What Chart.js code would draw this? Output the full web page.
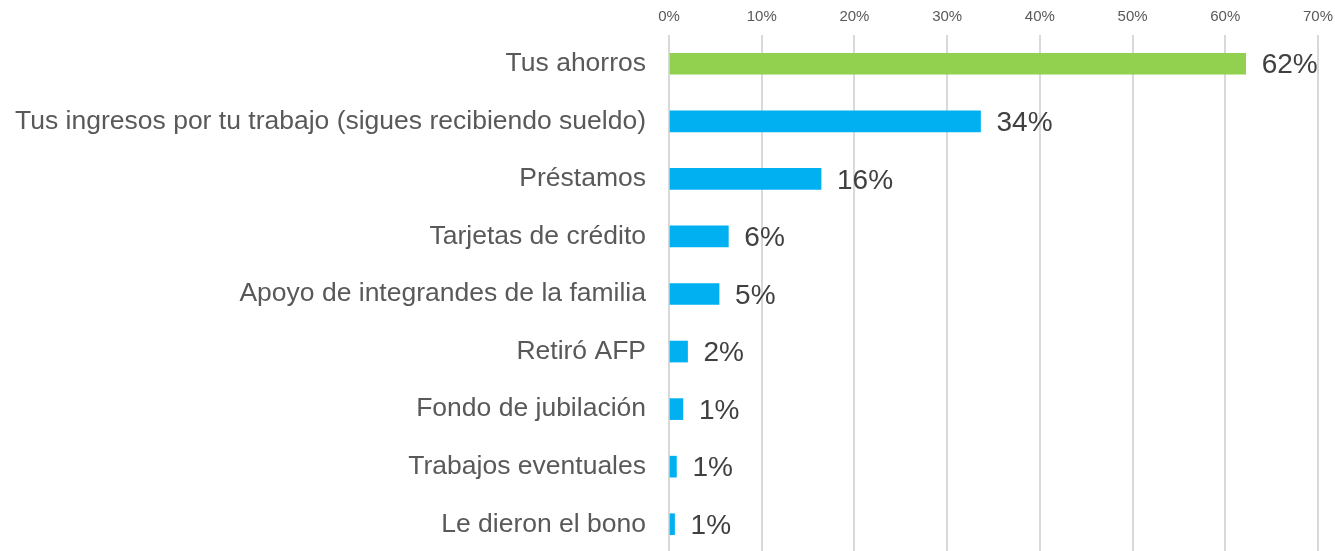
<!DOCTYPE html>
<html>
<head>
<meta charset="utf-8">
<script src="https://cdn.jsdelivr.net/npm/chart.js@4.4.0/dist/chart.umd.min.js"></script>
<style>
  html, body { margin: 0; padding: 0; background: #fff; overflow: hidden; }
  #wrap { width: 1335px; height: 553px; position: relative; }
</style>
</head>
<body>
<div id="wrap"><canvas id="sourceChart"></canvas></div>
<script>
const categories = [
  "Tus ahorros",
  "Tus ingresos por tu trabajo (sigues recibiendo sueldo)",
  "Préstamos",
  "Tarjetas de crédito",
  "Apoyo de integrandes de la familia",
  "Retiró AFP",
  "Fondo de jubilación",
  "Trabajos eventuales",
  "Le dieron el bono"
];
const values = [62.2, 33.6, 16.4, 6.4, 5.4, 2.0, 1.5, 0.8, 0.6];
const valueLabels = ["62%", "34%", "16%", "6%", "5%", "2%", "1%", "1%", "1%"];
const barColors = ["#92D050", "#00B0F0", "#00B0F0", "#00B0F0", "#00B0F0", "#00B0F0", "#00B0F0", "#00B0F0", "#00B0F0"];
const tickMax = 70;
const tickStep = 10;

const fontFamily = "Arial, 'Liberation Sans', sans-serif";

// draws the % text to the right of each bar
const barLabels = {
  id: "barLabels",
  afterDatasetsDraw(chart) {
    const ctx = chart.ctx;
    const meta = chart.getDatasetMeta(0);
    ctx.save();
    ctx.font = "28px " + fontFamily;
    ctx.fillStyle = "#404040";
    ctx.textAlign = "left";
    ctx.textBaseline = "middle";
    meta.data.forEach((bar, i) => {
      ctx.fillText(valueLabels[i], bar.x + 16, bar.y + 2);
    });
    ctx.restore();
  }
};

const ctx = document.getElementById("sourceChart");

new Chart(ctx, {
  type: "bar",
  data: {
    labels: categories,
    datasets: [{
      data: values,
      backgroundColor: barColors,
      borderWidth: 0,
      barThickness: 21
    }]
  },
  options: {
    indexAxis: "y",
    responsive: true,
    maintainAspectRatio: false,
    animation: false,
    layout: { padding: { left: 0, right: 17, top: 0, bottom: 0 } },
    plugins: {
      legend: { display: false },
      tooltip: { enabled: false }
    },
    scales: {
      x: {
        position: "top",
        min: 0,
        max: tickMax,
        ticks: {
          stepSize: tickStep,
          padding: 9,
          color: "#595959",
          font: { family: fontFamily, size: 15 },
          callback: (v) => v + "%"
        },
        grid: {
          color: "#d9d9d9",
          lineWidth: 2,
          drawTicks: false
        },
        border: { display: false },
        afterFit: (scale) => {
          scale.height = 35;
          scale.paddingLeft = 0;
          scale.paddingRight = 0;
        }
      },
      y: {
        ticks: {
          padding: 23,
          color: "#595959",
          font: { family: fontFamily, size: 26.5 }
        },
        grid: { display: false, drawTicks: false },
        border: { display: false },
        afterFit: (scale) => {
          scale.width = 669;
          scale.paddingTop = 0;
          scale.paddingBottom = 0;
        }
      }
    }
  },
  plugins: [barLabels]
});
</script>
</body>
</html>
